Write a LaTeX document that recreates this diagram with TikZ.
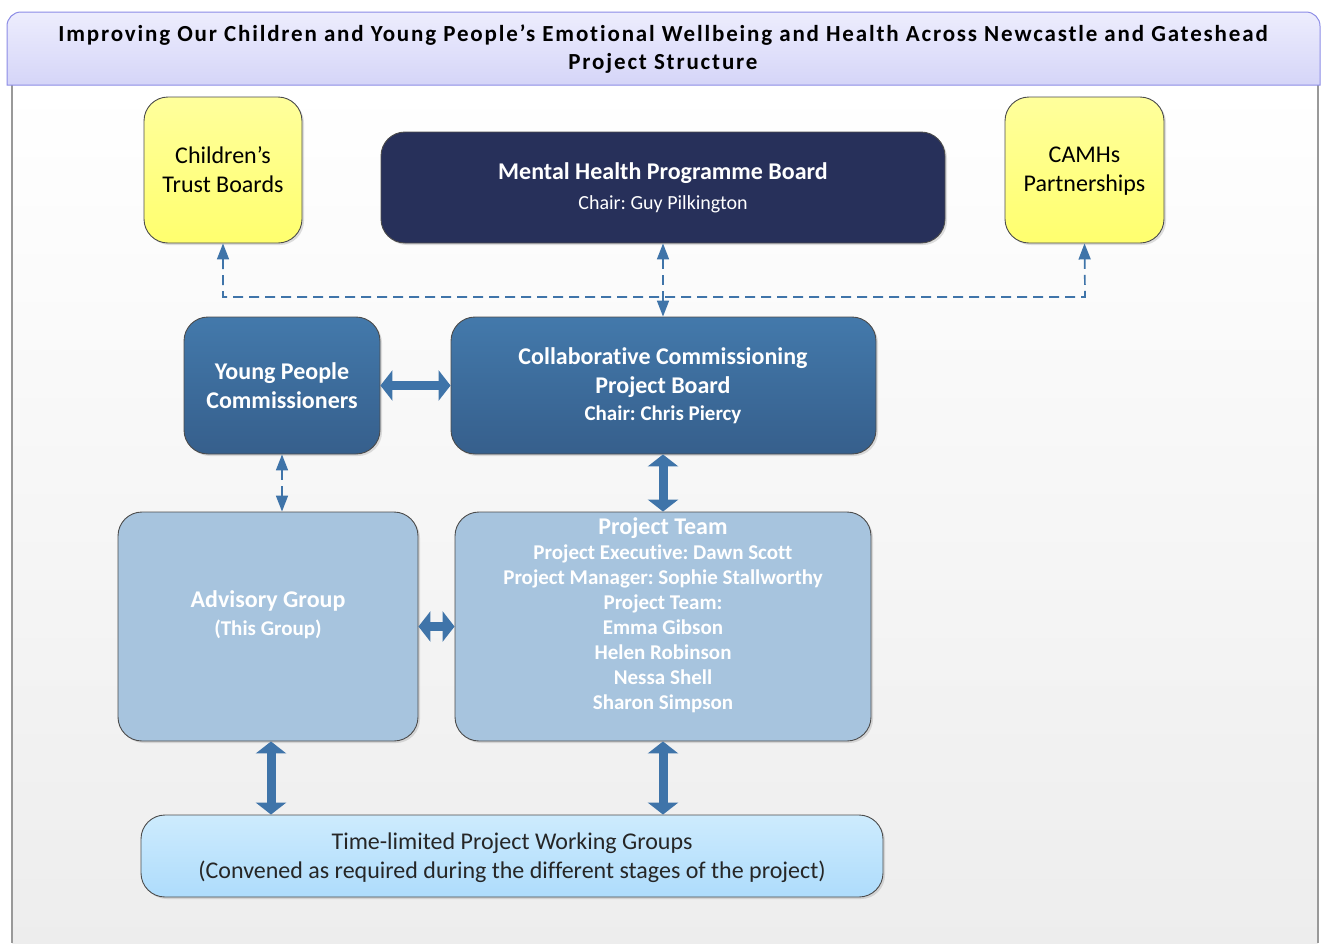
\documentclass[tikz,border=0pt]{standalone}
\usepackage{fontspec}
\setmainfont[Ligatures=NoCommon]{Carlito}
\usetikzlibrary{arrows.meta,shadows}
\frenchspacing
\definecolor{navyboard}{HTML}{27305A}
\definecolor{midtop}{HTML}{4379AB}
\definecolor{midbot}{HTML}{365F8C}
\definecolor{paleblue}{HTML}{A7C4DE}
\definecolor{skytop}{HTML}{CDEBFD}
\definecolor{skybot}{HTML}{AEDCFC}
\definecolor{yelltop}{HTML}{FFFF9C}
\definecolor{yellbot}{HTML}{FFFF6E}
\definecolor{headtop}{HTML}{EDEDFD}
\definecolor{headbot}{HTML}{D5D5F8}
\definecolor{headline}{HTML}{8C8CE6}
\definecolor{arrowblue}{HTML}{3F74A9}
\begin{document}
\begin{tikzpicture}
  [x=1pt,y=-1pt,every node/.style={align=center,inner sep=0pt}]
  \tikzstyle{box} = [draw=black!70,line width=0.9pt,rounded corners=24pt,
    drop shadow={opacity=0.25,shadow xshift=2pt,shadow yshift=-2pt}]
  \tikzstyle{yellowbox} = [box,top color=yelltop,bottom color=yellbot]
  \tikzstyle{navybox} = [box,fill=navyboard]
  \tikzstyle{midbox} = [box,top color=midtop,bottom color=midbot]
  \tikzstyle{palebox} = [box,fill=paleblue]
  \tikzstyle{skybox} = [box,top color=skytop,bottom color=skybot]
  \tikzstyle{dashlink} = [draw=arrowblue,line width=1.7pt,dash pattern=on 10pt off 6pt,
    {Triangle[width=12pt,length=16pt]}-{Triangle[width=12pt,length=16pt]}]
  \tikzstyle{biglink} = [draw=arrowblue,line width=9pt,
    {Triangle[width=30pt,length=12pt]}-{Triangle[width=30pt,length=12pt]}]
  \tikzstyle{bigtext} = [font=\fontsize{24}{29}\selectfont]
  \tikzstyle{whitetext} = [text=white,font=\bfseries\fontsize{24}{29}\selectfont]
  \tikzstyle{smalltext} = [text=white,font=\bfseries\fontsize{21}{25}\selectfont]

  \useasboundingbox (0,0) rectangle (1324,943);
  % page frame and heading
  \fill[top color=white,bottom color=black!7] (12,85) rectangle (1318,943);
  \draw[black!40,line width=1.2pt] (12,85) -- (12,943) (1318,85) -- (1318,943);
  \draw[draw=headline,line width=1pt,top color=headtop,bottom color=headbot]
    (7,85) [rounded corners=14pt]-- (7,12) -- (1320,12) [sharp corners]-- (1320,85) -- cycle;
  \node[font=\fontsize{23}{28.5}\selectfont\addfontfeatures{LetterSpace=8}\bfseries] (title) at (663,49)
    {Improving Our Children and Young People’s Emotional Wellbeing and Health Across Newcastle and Gateshead\\
    Project Structure};

  % boxes
  \node[yellowbox,bigtext,minimum width=158pt,minimum height=146pt] (trust) at (223,170)
    {Children’s\\Trust Boards};
  \node[yellowbox,bigtext,minimum width=159pt,minimum height=146pt] (camhs) at (1084.5,170)
    {CAMHs\vphantom{h’}\\Partnerships};
  \node[navybox,minimum width=564pt,minimum height=111pt] (mhpb) at (663,187.5) {};
  \node[whitetext] (mhpbtitle) at (663,173) {Mental Health Programme Board};
  \node[text=white,font=\fontsize{20}{24}\selectfont] (mhpbchair) at (663,204) {Chair: Guy Pilkington};
  \node[midbox,whitetext,minimum width=196pt,minimum height=137pt] (ypc) at (282,385.5)
    {Young People\\Commissioners};
  \node[midbox,minimum width=425pt,minimum height=137pt] (ccpb) at (663.5,385.5) {};
  \node[whitetext] (ccpbtitle) at (663,372.5) {Collaborative Commissioning\\Project Board};
  \node[smalltext] (ccpbchair) at (663,415) {Chair: Chris Piercy};
  \node[palebox,minimum width=300pt,minimum height=229pt] (adv) at (268,626.5) {};
  \node[whitetext] (advtitle) at (268,601) {Advisory Group};
  \node[smalltext] (advnote) at (268,629) {(This Group)};
  \node[palebox,minimum width=416pt,minimum height=229pt] (team) at (663,626.5) {};
  \node[whitetext] (teamtitle) at (663,528) {Project Team};
  \node[smalltext] (teamlist) at (663,629)
    {Project Executive: Dawn Scott\\Project Manager: Sophie Stallworthy\\Project Team:\\
    Emma Gibson\\Helen Robinson\\Nessa Shell\\Sharon Simpson};
  \node[skybox,minimum width=742pt,minimum height=82pt] (groups) at (512,856) {};
  \node[bigtext,text=black!85] (groupstext) at (512,858)
    {Time-limited Project Working Groups\\
     (Convened as required during the different stages of the project)};

  % connectors
  \coordinate (busleft) at (223,297);
  \coordinate (busright) at (1085,297);
  \draw[dashlink] (trust.south) -- (busleft) -- (busright) -- (camhs.south);
  \draw[dashlink] (mhpb.south) -- (mhpb.south |- ccpb.north);
  \draw[dashlink] (ypc.south) -- (ypc.south |- adv.north);
  \draw[biglink] (ypc.east) -- (ccpb.west);
  \draw[biglink] (adv.east) -- (team.west);
  \draw[biglink] (team.north |- ccpb.south) -- (team.north);
  \draw[biglink] ([xshift=3pt]adv.south) -- ([xshift=3pt]adv.south |- groups.north);
  \draw[biglink] (team.south) -- (team.south |- groups.north);
\end{tikzpicture}
\end{document}
